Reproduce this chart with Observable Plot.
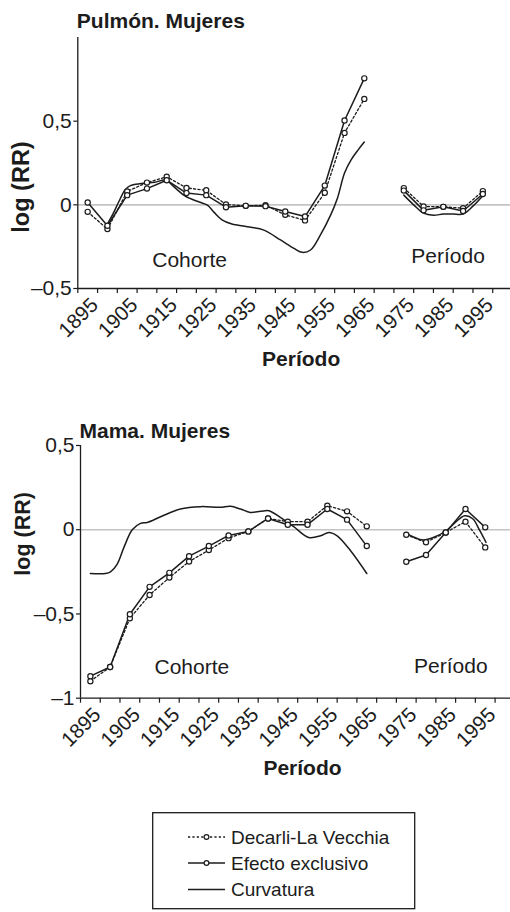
<!DOCTYPE html>
<html>
<head>
<meta charset="utf-8">
<script src="https://cdn.jsdelivr.net/npm/d3@7"></script>
<script src="https://cdn.jsdelivr.net/npm/@observablehq/plot@0.6"></script>
<style>
  html, body { margin: 0; padding: 0; background: white; }
  #wrap { position: relative; width: 510px; height: 912px; overflow: hidden; font-family: "Liberation Sans", Arial, sans-serif; }
  #wrap > * { position: absolute; left: 0; }
</style>
</head>
<body>
<div id="wrap"></div>
<script>
// ---------- data ----------
const cohortYears = [1892.5, 1897.5, 1902.5, 1907.5, 1912.5, 1917.5, 1922.5, 1927.5, 1932.5, 1937.5, 1942.5, 1947.5, 1952.5, 1957.5, 1962.5];
const periodYears = [1972.5, 1977.5, 1982.5, 1987.5, 1992.5];

// Pulmón. Mujeres
const pulmonEfectoCohort  = [0.014, -0.125, 0.058, 0.097, 0.147, 0.070, 0.058, -0.014, -0.006, -0.008, -0.040, -0.070, 0.115, 0.504, 0.756];
const pulmonDecarliCohort = [-0.042, -0.145, 0.080, 0.133, 0.168, 0.101, 0.087, 0.002, -0.006, -0.002, -0.060, -0.093, 0.072, 0.430, 0.633];
const pulmonEfectoPeriod  = [0.085, -0.033, -0.012, -0.037, 0.065];
const pulmonDecarliPeriod = [0.100, -0.010, -0.012, -0.020, 0.082];
const pulmonCurvCohortYears  = [1897.5, 1899, 1900.4, 1902, 1903.3, 1906, 1909.5, 1912.2, 1914.7, 1917.3, 1920.6, 1922.8, 1924.5, 1926.5, 1929, 1932.9, 1937.1, 1941.3, 1944.7, 1946.8, 1948.9, 1951.4, 1954, 1955.7, 1957.5, 1959.2, 1961, 1962.5];
const pulmonCurvCohortValues = [-0.115, -0.05, 0.02, 0.09, 0.115, 0.127, 0.135, 0.147, 0.10, 0.05, 0.018, -0.002, -0.045, -0.09, -0.115, -0.131, -0.151, -0.21, -0.26, -0.284, -0.27, -0.18, -0.06, 0.04, 0.19, 0.27, 0.33, 0.375];
const pulmonCurvPeriodYears  = [1972.5, 1975, 1977.5, 1980, 1982.5, 1985, 1987.5, 1990, 1992.5];
const pulmonCurvPeriodValues = [0.058, 0.0, -0.05, -0.062, -0.055, -0.055, -0.055, -0.008, 0.054];

// Mama. Mujeres
const mamaEfectoCohort  = [-0.869, -0.815, -0.502, -0.339, -0.256, -0.157, -0.097, -0.034, -0.010, 0.067, 0.030, 0.030, 0.123, 0.060, -0.097];
const mamaDecarliCohort = [-0.899, -0.815, -0.526, -0.387, -0.284, -0.189, -0.121, -0.050, -0.010, 0.067, 0.048, 0.048, 0.143, 0.109, 0.020];
const mamaEfectoPeriod  = [-0.190, -0.150, -0.016, 0.123, 0.014];
const mamaDecarliPeriod = [-0.030, -0.075, -0.016, 0.048, -0.105];
const mamaCurvCohortYears  = [1892.5, 1896.3, 1897.6, 1899.3, 1901, 1903.1, 1905.2, 1906.9, 1910.3, 1915.3, 1920.4, 1925.4, 1928, 1930.5, 1933, 1935.6, 1937.7, 1940.6, 1944, 1947.8, 1950.8, 1952.9, 1955, 1958.4, 1962.5];
const mamaCurvCohortValues = [-0.26, -0.26, -0.25, -0.204, -0.105, 0.0, 0.038, 0.043, 0.077, 0.123, 0.137, 0.133, 0.139, 0.123, 0.103, 0.109, 0.113, 0.073, 0.018, -0.046, -0.036, -0.016, -0.036, -0.125, -0.26];
const mamaCurvPeriodYears  = [1972.5, 1974.5, 1976.7, 1979.5, 1982.6, 1985, 1987.3, 1989.4, 1991, 1992.7];
const mamaCurvPeriodValues = [-0.022, -0.045, -0.061, -0.045, -0.006, 0.045, 0.083, 0.064, 0.0, -0.075];

// axes
const xTicks = [1890, 1895, 1900, 1905, 1910, 1915, 1920, 1925, 1930, 1935, 1940, 1945, 1950, 1955, 1960, 1965, 1970, 1975, 1980, 1985, 1990, 1995];
const xTickLabels = [1895, 1905, 1915, 1925, 1935, 1945, 1955, 1965, 1975, 1985, 1995];
const yTicksTop = [-0.5, 0, 0.5];
const yTicksBottom = [-1, -0.5, 0, 0.5];
const legendLabels = ["Decarli-La Vecchia", "Efecto exclusivo", "Curvatura"];

// ---------- helpers ----------
const INK = "#1c1c1c";
const FONT = "'Liberation Sans', Arial, Helvetica, sans-serif";
const rows = (years, values, seg) => years.map((x, i) => ({x, y: values[i], seg}));
const fmtY = d => (d < 0 ? "\u2013" : "") + String(Math.abs(d)).replace(".", ",");
const fmtX = d => String(d);

function panel({title, efecto, decarli, curv, xDomain, yDomain, yTicks, marginLeft, marginTop, marginBottom, height, titleDy, ylabDx, ylabDy, ylabSize, cohortPos, periodPos}) {
  return Plot.plot({
    width: 510, height, marginLeft, marginRight: 0, marginTop, marginBottom,
    x: {domain: xDomain},
    y: {domain: yDomain},
    style: {fontFamily: FONT, fontSize: "20px", color: INK, background: "white", overflow: "visible"},
    marks: [
      Plot.ruleY([0], {stroke: "#c4c4c4", strokeWidth: 1.6}),
      Plot.axisX({ticks: xTicks, tickSize: 5, tickFormat: () => "", label: null, stroke: INK, strokeWidth: 1.2}),
      Plot.axisX({ticks: xTickLabels, tickSize: 0, tickFormat: fmtX, tickRotate: -45, tickPadding: 2, dx: -3, dy: 11, label: null, fontSize: 20.5}),
      Plot.axisY({ticks: yTicks, tickFormat: fmtY, tickSize: 4, tickPadding: 2, label: null, fontSize: 21, stroke: INK, strokeWidth: 1.2}),
      Plot.ruleX([xDomain[0]], {stroke: INK, strokeWidth: 1.3}),
      Plot.ruleY([yDomain[0]], {stroke: INK, strokeWidth: 1.3}),
      Plot.line(curv, {x: "x", y: "y", z: "seg", curve: "catmull-rom", stroke: INK, strokeWidth: 1.5}),
      Plot.line(decarli, {x: "x", y: "y", z: "seg", stroke: INK, strokeWidth: 1.3, strokeDasharray: "2.2,2.2"}),
      Plot.line(efecto, {x: "x", y: "y", z: "seg", stroke: INK, strokeWidth: 1.5}),
      Plot.dot(decarli, {x: "x", y: "y", r: 2.6, fill: "white", stroke: INK, strokeWidth: 1.2}),
      Plot.dot(efecto, {x: "x", y: "y", r: 2.6, fill: "white", stroke: INK, strokeWidth: 1.2}),
      Plot.text([title], {text: d => d, frameAnchor: "top-left", dx: -1, dy: titleDy, textAnchor: "start", lineAnchor: "bottom", fontWeight: "bold", fontSize: 21, fill: INK}),
      Plot.text(["Período"], {text: d => d, frameAnchor: "bottom", dx: 7, dy: 77, lineAnchor: "bottom", fontWeight: "bold", fontSize: 21, fill: INK}),
      Plot.text(["log (RR)"], {text: d => d, frameAnchor: "left", rotate: -90, dx: ylabDx, dy: ylabDy, textAnchor: "middle", lineAnchor: "bottom", fontWeight: "bold", fontSize: ylabSize, fill: INK}),
      Plot.text(["Cohorte"], {text: d => d, x: [cohortPos[0]], y: [cohortPos[1]], lineAnchor: "bottom", fontSize: 21, fill: INK}),
      Plot.text(["Período"], {text: d => d, x: [periodPos[0]], y: [periodPos[1]], lineAnchor: "bottom", fontSize: 21, fill: INK})
    ]
  });
}

const wrap = document.getElementById("wrap");

const topPanel = panel({
  title: "Pulmón. Mujeres",
  efecto: [...rows(cohortYears, pulmonEfectoCohort, "c"), ...rows(periodYears, pulmonEfectoPeriod, "p")],
  decarli: [...rows(cohortYears, pulmonDecarliCohort, "c"), ...rows(periodYears, pulmonDecarliPeriod, "p")],
  curv: [...rows(pulmonCurvCohortYears, pulmonCurvCohortValues, "c"), ...rows(pulmonCurvPeriodYears, pulmonCurvPeriodValues, "p")],
  xDomain: [1890, 1999.5], yDomain: [-0.5, 1.0], yTicks: yTicksTop,
  marginLeft: 77.3, marginTop: 37, marginBottom: 112, height: 400,
  titleDy: -10, ylabDx: -48.5, ylabDy: 24, ylabSize: 23.5,
  cohortPos: [1918.3, -0.369], periodPos: [1983.7, -0.349]
});
topPanel.style.top = "0px";
wrap.appendChild(topPanel);

const bottomPanel = panel({
  title: "Mama. Mujeres",
  efecto: [...rows(cohortYears, mamaEfectoCohort, "c"), ...rows(periodYears, mamaEfectoPeriod, "p")],
  decarli: [...rows(cohortYears, mamaDecarliCohort, "c"), ...rows(periodYears, mamaDecarliPeriod, "p")],
  curv: [...rows(mamaCurvCohortYears, mamaCurvCohortValues, "c"), ...rows(mamaCurvPeriodYears, mamaCurvPeriodValues, "p")],
  xDomain: [1890, 1998.9], yDomain: [-1, 0.5], yTicks: yTicksBottom,
  marginLeft: 80, marginTop: 45, marginBottom: 102.3, height: 400,
  titleDy: -8, ylabDx: -51, ylabDy: -38, ylabSize: 21.5,
  cohortPos: [1918.2, -0.859], periodPos: [1983.8, -0.849]
});
bottomPanel.style.top = "400px";
wrap.appendChild(bottomPanel);

// ---------- legend ----------
const LW = 262, LH = 96;
const leg = d3.create("svg").attr("width", LW + 2).attr("height", LH + 2)
  .style("left", "152px").style("top", "811.5px").style("font-family", FONT);
leg.append("rect").attr("x", 0.7).attr("y", 0.7).attr("width", LW).attr("height", LH)
  .attr("fill", "white").attr("stroke", INK).attr("stroke-width", 1.3);
const baselines = [31.5, 57.5, 84];
legendLabels.forEach((lab, i) => {
  const g = leg.append("g").attr("transform", `translate(0,${baselines[i] - 6.5})`);
  g.append("line").attr("x1", 36).attr("x2", 73).attr("y1", 0).attr("y2", 0)
    .attr("stroke", INK).attr("stroke-width", i === 0 ? 1.3 : 1.5)
    .attr("stroke-dasharray", i === 0 ? "2.2,2.2" : null);
  if (i < 2) g.append("circle").attr("cx", 54.5).attr("cy", 0).attr("r", 2.4)
    .attr("fill", "white").attr("stroke", INK).attr("stroke-width", 1.2);
  leg.append("text").attr("x", 79).attr("y", baselines[i]).attr("font-size", 19)
    .attr("fill", INK).text(lab);
});
wrap.appendChild(leg.node());
</script>
</body>
</html>
